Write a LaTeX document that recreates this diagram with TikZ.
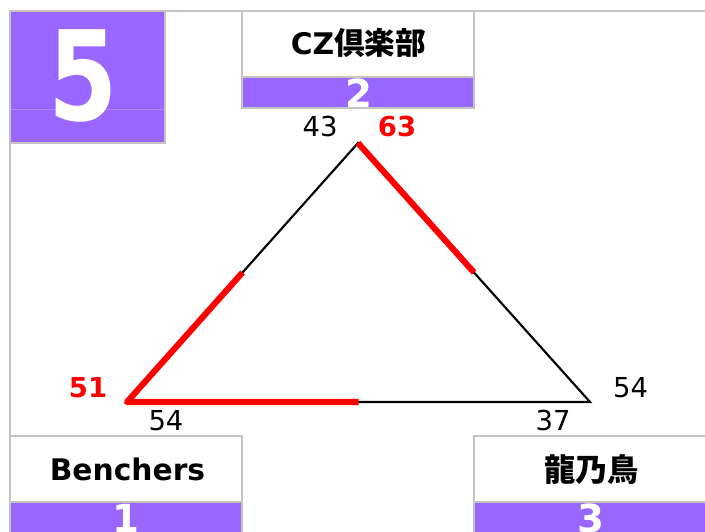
\documentclass[tikz,border=0pt]{standalone}
\usepackage{fontspec}
\usetikzlibrary{calc}
\setmainfont{DejaVu Sans}
\newfontfamily\cjk{Noto Sans CJK JP}
\definecolor{pur}{HTML}{9966FF}
\definecolor{framegray}{HTML}{C4C4C4}
\definecolor{scorered}{HTML}{FF0000}
\tikzset{
  frameline/.style={draw=framegray, line width=1.8pt},
  boxborder/.style={draw=framegray, line width=1.6pt},
  teamname/.style={anchor=base, inner sep=0pt, font=\fontsize{22.3}{26}\selectfont\bfseries},
  bigdigit/.style={inner sep=0pt, text=white, font=\fontsize{93.5}{100}\selectfont\bfseries},
  stripdigit/.style={inner sep=0pt, text=white, font=\fontsize{29}{32}\selectfont\bfseries},
  score/.style={anchor=base, inner sep=0pt, font=\fontsize{20.6}{24}\selectfont},
  winscore/.style={anchor=base, inner sep=0pt, text=scorered, font=\fontsize{20.6}{24}\selectfont\bfseries},
  edge/.style={draw=black, line width=1.6pt},
  winedge/.style={draw=scorered, line width=4.6pt, line join=round}
}
\begin{document}
\begin{tikzpicture}[x=0.75pt,y=-0.75pt]
\useasboundingbox (0,0) rectangle (705,531);
\clip (0,0) rectangle (705,531);
% outer frame
\coordinate (ftl) at (10,11);
\coordinate (ftr) at (708,11);
\coordinate (fbl) at (10,540);
\draw[frameline] (ftr) -- (ftl) -- (fbl);
% box 5
\fill[pur] (10,11) rectangle (165,143);
\draw[pur!78!white, line width=0.6pt] (10,109) -- (165,109);
\node[bigdigit] (five) at (83.5,75.5) {\scalebox{0.8}[1]{5}};
\draw[boxborder] (10,11) rectangle (165,143);
% box CZ (2)
\fill[white] (242,11) rectangle (474,77);
\fill[pur] (242,77) rectangle (474,108);
\node[stripdigit] (two) at (359,93) {2};
\draw[boxborder] (242,11) rectangle (474,108);
\draw[boxborder] (242,77) -- (474,77);
\node[teamname] (cz) at (358.5,55) {CZ{\cjk\fontsize{23}{26}\selectfont\bfseries 倶楽部}};
% box Benchers (1)
\fill[white] (10,436) rectangle (242,502);
\fill[pur] (10,502) rectangle (242,560);
\node[stripdigit] (one) at (126,518) {1};
\draw[boxborder] (10,436) rectangle (242,560);
\draw[boxborder] (10,502) -- (242,502);
\node[teamname] (benchers) at (127.5,480) {Benchers};
% box 龍乃鳥 (3)
\fill[white] (474,436) rectangle (710,502);
\fill[pur] (474,502) rectangle (710,560);
\node[stripdigit] (three) at (591,518) {3};
\draw[boxborder] (474,436) rectangle (710,560);
\draw[boxborder] (474,502) -- (710,502);
\node[teamname] (ryu) at (591.5,481) {{\cjk\fontsize{23.5}{26}\selectfont\bfseries 龍乃鳥}};
% triangle
\coordinate (A) at (358,143);
\coordinate (B) at (127,402);
\coordinate (C) at (590,402);
\draw[edge, line join=miter] (A) -- (B) -- (C) -- cycle;
\draw[winedge] (A) -- ($(A)!0.5!(C)$);
\draw[winedge] ($(A)!0.5!(B)$) -- (B) -- ($(B)!0.5!(C)$);
% scores
\node[score] (s43) at (320,137) {43};
\node[winscore] (s63) at (397,137) {63};
\node[winscore] (s51) at (88,397) {51};
\node[score] (s54a) at (166,430) {54};
\node[score] (s37) at (553,430) {37};
\node[score] (s54b) at (630.5,397) {54};
\end{tikzpicture}
\end{document}
